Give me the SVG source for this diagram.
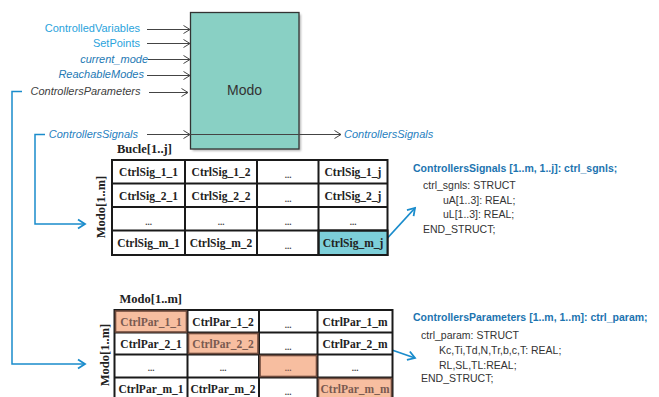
<svg xmlns="http://www.w3.org/2000/svg" width="659" height="397" viewBox="0 0 659 397">
<defs>
<marker id="chev" markerWidth="10" markerHeight="10" refX="8" refY="5" orient="auto" markerUnits="userSpaceOnUse"><path d="M1.5,1 L8,5 L1.5,9" fill="none" stroke="#444" stroke-width="1"/></marker>
<marker id="bchev" markerWidth="12" markerHeight="12" refX="9" refY="6" orient="auto" markerUnits="userSpaceOnUse"><path d="M2,1.5 L9,6 L2,10.5" fill="none" stroke="#1a8ccc" stroke-width="1.8"/></marker>
<filter id="sh" x="-10%" y="-10%" width="130%" height="130%"><feGaussianBlur stdDeviation="1.2"/></filter>
</defs>
<style>
.lbl{font-family:"Liberation Sans",Arial,sans-serif;font-size:11px}
.it{font-style:italic}
.ln{fill:none;stroke:#444;stroke-width:1}
.br{fill:none;stroke:#1a8ccc;stroke-width:1.5}
.cell{fill:#fff;stroke:#1a1a1a;stroke-width:2}
.ct{font-family:"Liberation Serif","Times New Roman",serif;font-weight:bold;font-size:11.5px;fill:#222;text-anchor:middle}
.tl{font-family:"Liberation Serif","Times New Roman",serif;font-weight:bold;font-size:12.5px;fill:#222}
.vl{text-anchor:middle}
.dots{font-family:"Liberation Serif",serif;font-weight:bold;font-size:9px;fill:#444;text-anchor:middle}
.sal{fill:#f7bea0;stroke:#6e4a3c;stroke-width:1.6}
.salt{fill:#7a5a50}
.hd{font-family:"Liberation Sans",Arial,sans-serif;font-weight:bold;font-size:10.5px;fill:#1c74b0}
.bd{font-family:"Liberation Sans",Arial,sans-serif;font-size:10.5px;fill:#333}
</style>

<g id="modo">
<rect x="192.5" y="14.5" width="108.5" height="136.5" fill="#999" filter="url(#sh)" opacity="0.7"/>
<rect x="190.5" y="12.5" width="108.5" height="136.5" fill="#89d0c4" stroke="#333" stroke-width="1.3"/>
<text x="244.5" y="95" font-family="Liberation Sans,Arial,sans-serif" font-size="14" fill="#333" text-anchor="middle">Modo</text>
</g>

<g id="labels">
<text class="lbl" x="140" y="32" text-anchor="end" fill="#2aa3dc">ControlledVariables</text>
<text class="lbl" x="140" y="47" text-anchor="end" fill="#2aa3dc">SetPoints</text>
<text class="lbl it" x="148" y="62.5" text-anchor="end" fill="#2479b4">current_mode</text>
<text class="lbl it" x="144" y="78" text-anchor="end" fill="#2479b4">ReachableModes</text>
<text class="lbl it" x="140.5" y="95" text-anchor="end" fill="#404040">ControllersParameters</text>
<text class="lbl it" x="138" y="137.5" text-anchor="end" fill="#1f80c0">ControllersSignals</text>
<text class="lbl it" x="344" y="137.5" fill="#1f80c0">ControllersSignals</text>
</g>

<g id="connectors">
<line class="ln" x1="147" y1="29.5" x2="190" y2="29.5" marker-end="url(#chev)"/>
<line class="ln" x1="147" y1="43.5" x2="190" y2="43.5" marker-end="url(#chev)"/>
<line class="ln" x1="148" y1="59.5" x2="190" y2="59.5" marker-end="url(#chev)"/>
<line class="ln" x1="147" y1="75.5" x2="190" y2="75.5" marker-end="url(#chev)"/>
<line class="ln" x1="149" y1="92.5" x2="188" y2="92.5" stroke="#777" marker-end="url(#chev)"/>
<line class="ln" x1="147" y1="134.5" x2="190" y2="134.5" marker-end="url(#chev)"/>
<line class="ln" x1="190" y1="134.5" x2="341" y2="134.5" marker-end="url(#chev)"/>
<polyline class="br" points="22,91.5 12,91.5 12,364 85,364" marker-end="url(#bchev)"/>
<polyline class="br" points="45,134.5 35,134.5 35,224 85,224" marker-end="url(#bchev)"/>
<line x1="382" y1="244" x2="415" y2="208" stroke="#1a8ccc" stroke-width="1.8" marker-end="url(#bchev)"/>
<line x1="389" y1="349" x2="415" y2="358" stroke="#1a8ccc" stroke-width="1.8" marker-end="url(#bchev)"/>
</g>

<g id="table-signals">
<text class="tl" x="117" y="153">Bucle[1..j]</text>
<text class="tl vl" transform="translate(104.5,207) rotate(-90)">Modo[1..m]</text>
<rect class="cell" x="112" y="160" width="275.5" height="95"/>
<rect x="318.5" y="230.5" width="69" height="24.5" fill="#7dcfd9" stroke="#1a1a1a" stroke-width="2"/>
<path d="M185,160V255M257,160V255M318.5,160V255M112,183.5H387.5M112,207H387.5M112,230.5H387.5" stroke="#1a1a1a" stroke-width="2" fill="none"/>
<text class="ct" x="148.5" y="176">CtrlSig_1_1</text>
<text class="ct" x="221" y="176">CtrlSig_1_2</text>
<text class="dots" x="288" y="178">...</text>
<text class="ct" x="353" y="176">CtrlSig_1_j</text>
<text class="ct" x="148.5" y="199.5">CtrlSig_2_1</text>
<text class="ct" x="221" y="199.5">CtrlSig_2_2</text>
<text class="dots" x="288" y="201.5">...</text>
<text class="ct" x="353" y="199.5">CtrlSig_2_j</text>
<text class="dots" x="148.5" y="225">...</text>
<text class="dots" x="221" y="225">...</text>
<text class="dots" x="288" y="225">...</text>
<text class="dots" x="353" y="225">...</text>
<text class="ct" x="148.5" y="247">CtrlSig_m_1</text>
<text class="ct" x="221" y="247">CtrlSig_m_2</text>
<text class="dots" x="288" y="249">...</text>
<text class="ct" x="353" y="247" fill="#1d3c48">CtrlSig_m_j</text>
</g>

<g id="struct-signals">
<text class="hd" x="413" y="171.5">ControllersSignals [1..m, 1..j]: ctrl_sgnls;</text>
<text class="bd" x="423" y="189">ctrl_sgnls: STRUCT</text>
<text class="bd" x="443" y="203.5">uA[1..3]: REAL;</text>
<text class="bd" x="443" y="218">uL[1..3]: REAL;</text>
<text class="bd" x="423" y="232.5">END_STRUCT;</text>
</g>

<g id="table-params">
<text class="tl" x="119.5" y="303">Modo[1..m]</text>
<text class="tl vl" transform="translate(108.5,355) rotate(-90)">Modo[1..m]</text>
<rect class="cell" x="114.5" y="310" width="278" height="92"/>
<path d="M187.5,310V402M259,310V402M317.5,310V402M114.5,332.5H392.5M114.5,354.5H392.5M114.5,377.5H392.5" stroke="#1a1a1a" stroke-width="2" fill="none"/>
<rect class="sal" x="115.5" y="311" width="71" height="21"/>
<rect class="sal" x="188.5" y="333.5" width="69.5" height="20"/>
<rect class="sal" x="260" y="355.5" width="56.5" height="21"/>
<rect class="sal" x="318.5" y="378.5" width="73" height="22"/>
<text class="ct salt" x="151" y="325.5">CtrlPar_1_1</text>
<text class="ct" x="223" y="325.5">CtrlPar_1_2</text>
<text class="dots" x="288" y="327.5">...</text>
<text class="ct" x="355" y="325.5">CtrlPar_1_m</text>
<text class="ct" x="151" y="347.5">CtrlPar_2_1</text>
<text class="ct salt" x="223" y="347.5">CtrlPar_2_2</text>
<text class="dots" x="288" y="349.5">...</text>
<text class="ct" x="355" y="347.5">CtrlPar_2_m</text>
<text class="dots" x="151" y="371">...</text>
<text class="dots" x="223" y="371">...</text>
<text class="dots salt" x="288" y="371">...</text>
<text class="dots" x="355" y="371">...</text>
<text class="ct" x="151" y="393">CtrlPar_m_1</text>
<text class="ct" x="223" y="393">CtrlPar_m_2</text>
<text class="dots" x="288" y="395">...</text>
<text class="ct salt" x="355" y="393">CtrlPar_m_m</text>
</g>

<g id="struct-params">
<text class="hd" x="413" y="321">ControllersParameters [1..m, 1..m]: ctrl_param;</text>
<text class="bd" x="421" y="339">ctrl_param: STRUCT</text>
<text class="bd" x="439" y="353.5">Kc,Ti,Td,N,Tr,b,c,T: REAL;</text>
<text class="bd" x="439" y="368.5">RL,SL,TL:REAL;</text>
<text class="bd" x="421" y="382">END_STRUCT;</text>
</g>
</svg>
